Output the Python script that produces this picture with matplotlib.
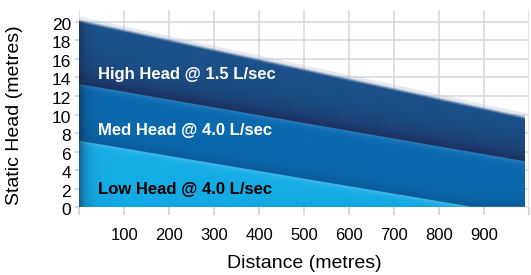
import numpy as np
import matplotlib
matplotlib.use("Agg")
import matplotlib.pyplot as plt
import matplotlib.transforms as mtransforms
from matplotlib.colors import to_rgb

# ---- data ----
dist_pts = [0, 990]
high_top = [20.0, 9.6]
med_top = [13.2, 4.9]
low_dist = [0, 873, 990]
low_top = [7.1, 0.0, 0.0]

x_ticks = [100, 200, 300, 400, 500, 600, 700, 800, 900]
y_ticks = [0, 2, 4, 6, 8, 10, 12, 14, 16, 18, 20]

labels = ["High Head @ 1.5 L/sec", "Med Head @ 4.0 L/sec", "Low Head @ 4.0 L/sec"]
label_y = [14.3, 8.3, 1.9]
label_colors = ["white", "white", "black"]

plt.rcParams['font.family'] = ['Liberation Sans', 'DejaVu Sans']

fig = plt.figure(figsize=(5.31, 2.75), dpi=100)
ax = fig.add_axes([0.1494, 0.246, 0.8475, 0.719])
ax.set_xlim(0, 1000)
ax.set_ylim(0, 21.3)

# ---- gradient image of the three bands, built from the data ----
nx, ny = 1200, 700
xs = np.linspace(0, dist_pts[-1], nx)
ys = np.linspace(0, 20.6, ny)
X, Y = np.meshgrid(xs, ys)
hi = np.interp(X, dist_pts, high_top)
md = np.interp(X, dist_pts, med_top)
lo = np.interp(X, low_dist, low_top)

img = np.zeros((ny, nx, 4))

def blend(c1, c2, f):
    c1 = np.array(to_rgb(c1)); c2 = np.array(to_rgb(c2))
    return c1[None, None, :] * (1 - f[..., None]) + c2[None, None, :] * f[..., None]

# high band
f_h = np.exp(-np.clip(Y - md, 0, None) / 1.6)
col_h = blend("#1c528c", "#1c2f5e", f_h)
# med band
f_m = np.exp(-np.clip(Y - lo, 0, None) / 1.0)
col_m = blend("#0b6aae", "#0a5592", f_m * 0.8)
hl_m = np.exp(-np.clip(md - Y, 0, None) / 0.25)
col_m = col_m * (1 - 0.45 * hl_m[..., None]) + np.array(to_rgb("#5aa6dc"))[None, None, :] * 0.45 * hl_m[..., None]
# low band
col_l = blend("#15ade6", "#0f9bd8", np.exp(-np.clip(Y, 0, None) / 0.8) * 0.5)
hl_l = np.exp(-np.clip(lo - Y, 0, None) / 0.25)
col_l = col_l * (1 - 0.5 * hl_l[..., None]) + np.array(to_rgb("#7fd4f4"))[None, None, :] * 0.5 * hl_l[..., None]

rgb = np.where((Y <= lo)[..., None], col_l, np.where((Y <= md)[..., None], col_m, col_h))
# dark left edge
fe = np.exp(-X / 14.0) * 0.6
rgb = rgb * (1 - fe[..., None]) + np.array(to_rgb("#14264a"))[None, None, :] * fe[..., None]
img[..., :3] = np.clip(rgb, 0, 1)
alpha = np.clip((hi - Y) / 0.35 + 0.5, 0, 1)
img[..., 3] = alpha

ax.imshow(img, extent=[0, dist_pts[-1], 0, 20.6], origin="lower",
          aspect="auto", zorder=2, interpolation="antialiased")
ax.set_xlim(0, 1000)
ax.set_ylim(0, 21.3)

# soft halo above top edge
ax.plot(dist_pts, [v + 0.25 for v in high_top], color="#b8bfd0", lw=4, alpha=0.35, zorder=1.5,
        solid_capstyle="butt")

for t, yv, c in zip(labels, label_y, label_colors):
    ax.text(41, yv, t, color=c, fontsize=12, fontweight="bold", va="center", ha="left", zorder=5)

# ---- axes styling ----
ax.set_xticks(x_ticks)
ax.set_xticks([0, 1000], minor=True)
ax.set_yticks(y_ticks)
ax.grid(True, which="both", color="#d9d9e2", lw=1.2)
ax.set_axisbelow(True)
for s in ax.spines.values():
    s.set_visible(False)
ax.tick_params(axis="x", which="both", length=6, color="#d0d0da", width=1.2, pad=9, labelsize=12)
ax.tick_params(axis="y", length=3, color="#d0d0da", width=1.2, pad=3, labelsize=12.5)

# y tick labels sit slightly lower in the reference
off = mtransforms.ScaledTranslation(0, -2 / 100, fig.dpi_scale_trans)
for lab in ax.get_yticklabels():
    lab.set_transform(lab.get_transform() + off)

fig.text(15 / 531, 1 - 115 / 275, "Static Head (metres)", rotation=90, ha="center", va="center",
         fontsize=14)
fig.text(304 / 531, 1 - 263 / 275, "Distance (metres)", ha="center", va="center", fontsize=14)

fig.savefig("out.png", dpi=100)
